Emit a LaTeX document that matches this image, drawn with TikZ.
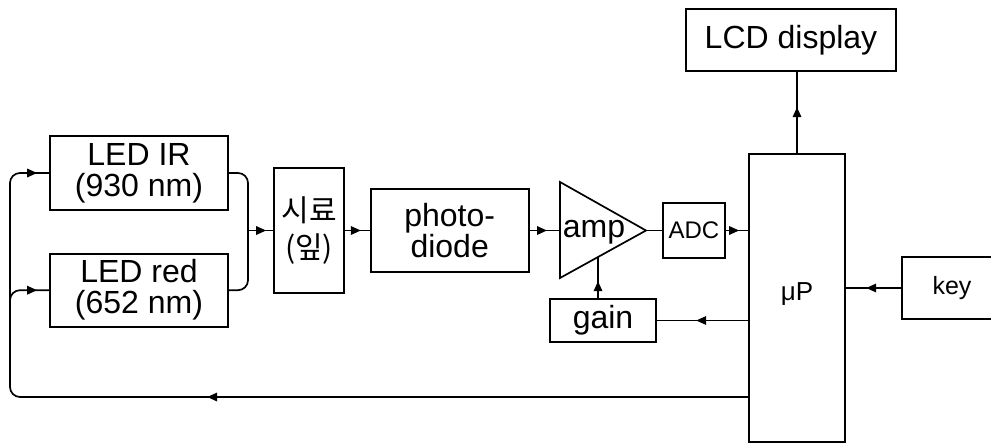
\documentclass[tikz,border=0pt]{standalone}
\usepackage{fontspec}
\setmainfont{Liberation Sans}
\newfontfamily\kor{Noto Sans CJK KR}
\usetikzlibrary{arrows.meta,positioning,calc,decorations.markings}
\tikzset{
  blokk/.style={draw,inner sep=0pt,align=center,font=\fontsize{32}{31}\selectfont},
  nyil/.style={postaction={decorate,decoration={markings,
      mark=at position #1 with {\arrow{Triangle[length=10pt,width=8.5pt]}}}}},
}

\begin{document}
\begin{tikzpicture}[x=1pt,y=-1pt,line width=1.7pt]
  \clip (0,0) rectangle (991,442);
  \node[blokk,minimum width=178pt,minimum height=74pt] (ledir) at (139,173) {LED IR\\(930 nm)};
  \node[blokk,minimum width=178pt,minimum height=73pt,below=42pt of ledir] (ledred) {LED red\\(652 nm)};
  \node[blokk,minimum width=70pt,minimum height=125pt,font=\kor\fontsize{30}{37}\selectfont] (minta) at (309,230.5) {시료\\(잎)};
  \node[blokk,minimum width=158pt,minimum height=83pt,right=25pt of minta] (dioda) {photo-\\diode};
  \coordinate (ampfel) at (560,182);
  \coordinate (ampalso) at (560,278);
  \coordinate (ampbal) at (560,230.5);
  \coordinate (ampcsucs) at (646,230.5);
  \draw (ampfel) -- (ampcsucs) -- (ampalso) -- cycle;
  \node[font=\fontsize{32}{31}\selectfont,inner sep=0pt,anchor=base] (amp) at (594,237) {amp};
  \node[blokk,minimum width=62pt,minimum height=55pt,font=\fontsize{24}{24}\selectfont,right=16pt of ampcsucs] (adc) {ADC};
  \node[blokk,minimum width=96pt,minimum height=288pt] (up) at (797,298) {};
  \node[font=\fontsize{26}{26}\selectfont,anchor=base] (upnev) at (797,300) {μP};
  \node[blokk,minimum width=210pt,minimum height=62pt] (lcd) at (791,40) {LCD display};
  \node[blokk,minimum width=100pt,minimum height=62pt,font=\fontsize{25}{25}\selectfont] (gomb) at (952,288) {key};
  \node[blokk,minimum width=106pt,minimum height=43pt] (erosites) at (603,320.5) {gain};

  \coordinate (vissza) at (10,397);
  \coordinate (piros) at (10,330);
  \coordinate (osszeg) at (248,230.5);
  \coordinate (ampbe) at ($(ampalso)!0.442!(ampcsucs)$);
  \draw[rounded corners=10pt,nyil=541pt,nyil=-12pt] (up.west |- vissza) -- (vissza) |- (ledir.west);
  \draw[rounded corners=10pt,nyil=-12pt] (piros) |- (ledred.west);
  \draw[rounded corners=10pt] (ledir.east) -| (osszeg) |- (ledred.east);
  \draw[nyil=-7pt] (osszeg) -- (minta);
  \draw[nyil=-9pt] (minta) -- (dioda);
  \draw[nyil=-13pt] (dioda) -- (ampbal);
  \draw (ampcsucs) -- (adc);
  \draw[nyil=-9pt] (adc) -- (adc -| up.west);
  \draw[nyil=46pt] (up.north) -- (up.north |- lcd.south);
  \draw[nyil=35pt] (gomb) -- (gomb -| up.east);
  \draw[nyil=52pt] (up.west |- erosites) -- (erosites);
  \draw[nyil=17pt] (erosites.north -| ampbe) -- (ampbe);
\end{tikzpicture}
\end{document}
